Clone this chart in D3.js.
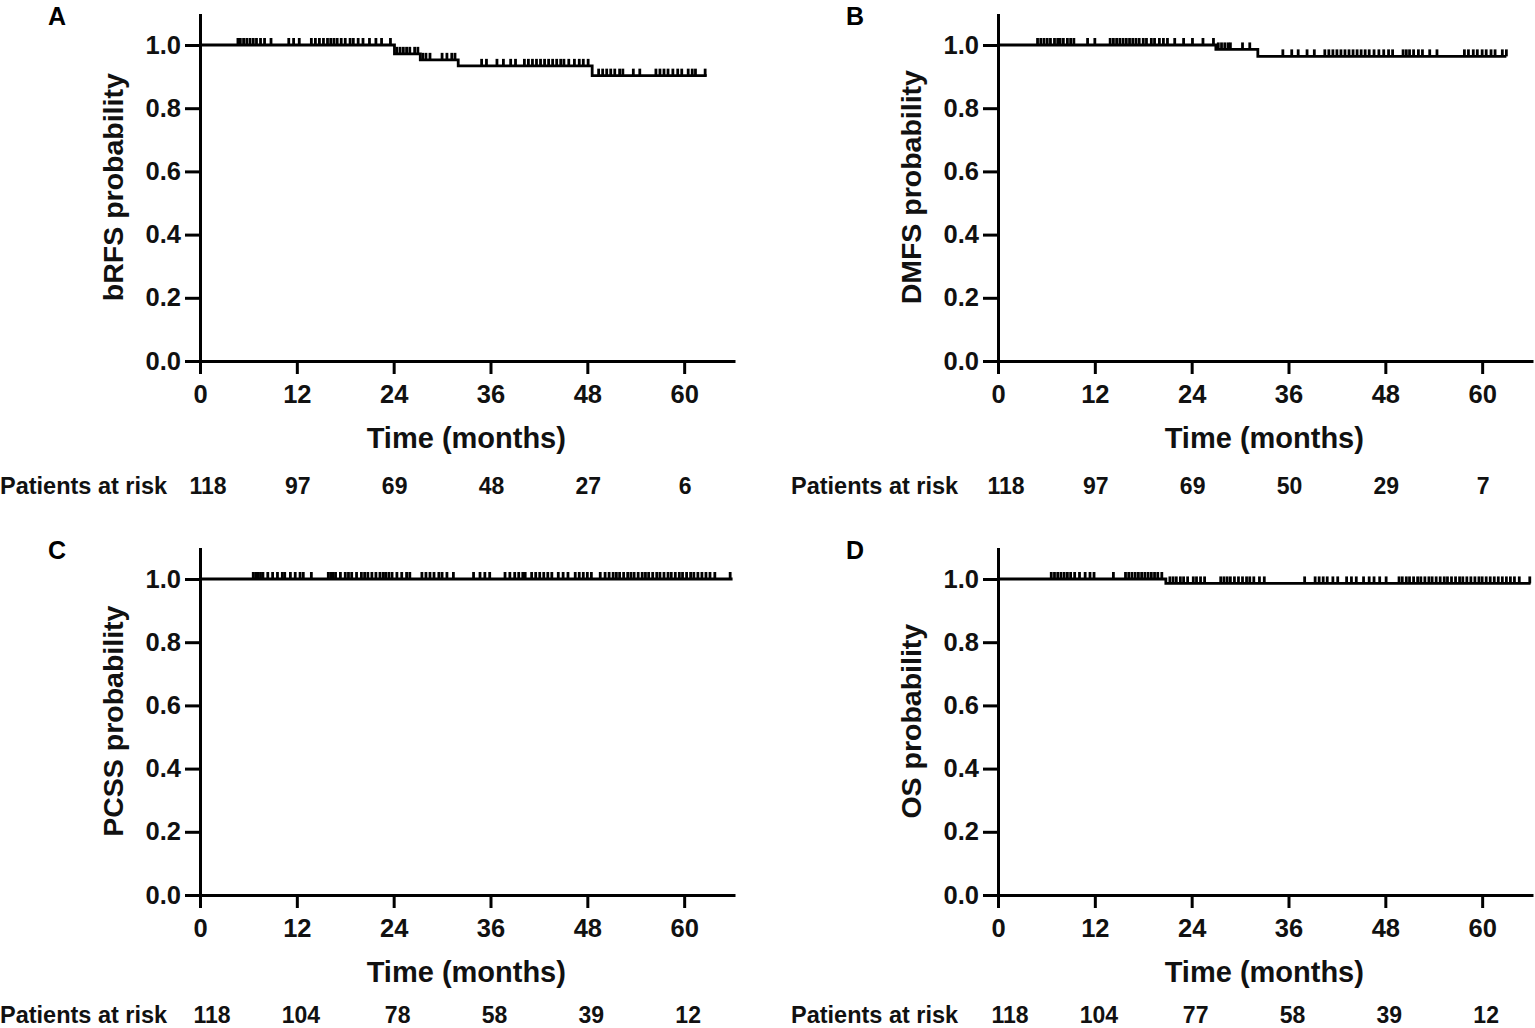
<!DOCTYPE html>
<html>
<head>
<meta charset="utf-8">
<script src="https://cdn.jsdelivr.net/npm/d3@7"></script>
<style>
  body { margin: 0; background: #fff; overflow: hidden; }
  svg { display: block; font-family: "Liberation Sans", Arial, sans-serif; font-weight: bold; }
</style>
</head>
<body>
<div id="chart"></div>
<script>
// Kaplan-Meier step points (time in months, survival probability)
const stepsA = [[0, 1], [24.1, 0.972], [27.3, 0.953], [32.0, 0.934], [48.6, 0.903]];
const stepsB = [[0, 1], [27.0, 0.986], [32.2, 0.964]];
const stepsC = [[0, 1]];
const stepsD = [[0, 1], [20.8, 0.986]];

// last follow-up time for each curve
const endA = 62.8, endB = 63.0, endC = 66.0, endD = 66.0;

// censored observations (months)
const censorA = [4.7, 5.0, 5.4, 5.8, 6.2, 6.6, 7.0, 7.5, 8.0, 8.8, 11.0, 11.6, 12.3,
  13.8, 14.3, 14.8, 15.3, 15.8, 16.2, 16.6, 17.0, 17.5, 18.0, 18.6, 19.0, 19.6, 20.2, 21.0,
  21.8, 22.5, 23.6, 24.4, 24.8, 25.2, 25.6, 26.0, 26.6, 27.0, 27.6, 28.0, 28.5,
  30.0, 30.6, 31.2, 31.6, 34.9, 35.5, 36.8, 37.6, 38.5, 39.1,
  40.2, 40.7, 41.2, 41.7, 42.2, 42.7, 43.2, 43.7, 44.2, 44.7, 45.1, 45.7, 46.4, 47.0, 47.5, 48.1,
  49.4, 49.9, 50.4, 50.9, 51.4, 52.0, 52.4, 53.7, 54.5, 56.5, 57.0, 57.5, 58.0,
  58.6, 59.2, 59.7, 60.5, 61.0, 61.4, 62.6];
const censorB = [4.9, 5.3, 5.7, 6.1, 6.5, 7.0, 7.4, 7.7, 8.1, 8.6, 9.0, 9.4, 11.1, 12.0,
  13.9, 14.3, 14.7, 15.1, 15.5, 15.9, 16.3, 16.7, 17.1, 17.5, 18.0, 18.4, 19.0, 19.4, 20.0, 20.5, 21.0,
  21.9, 23.0, 24.1, 25.4, 26.7, 27.3, 27.7, 28.1, 28.5, 28.8, 30.3, 31.2,
  35.3, 36.4, 37.2, 38.3, 39.2, 40.5, 41.0, 41.5, 42.0, 42.5, 43.0, 43.5, 44.0, 44.5, 45.0, 45.5,
  46.0, 46.6, 47.2, 47.8, 48.4, 48.9, 50.2, 50.6, 51.0, 51.5, 52.1, 52.6, 53.5, 54.4,
  57.8, 58.3, 58.9, 59.4, 60.0, 60.5, 61.1, 61.6, 62.5, 63.0];
const censorC = [6.6, 6.9, 7.2, 7.5, 7.8, 8.4, 9.0, 9.6, 10.2, 10.5, 11.2, 11.8, 12.4, 12.8, 13.8,
  15.9, 16.2, 16.5, 16.8, 17.4, 18.0, 18.4, 18.8, 19.4, 20.0, 20.4, 20.8, 21.3, 21.8, 22.3,
  22.7, 23.0, 23.4, 23.8, 24.4, 25.0, 25.6, 26.0, 27.5, 28.0, 28.5, 29.0, 29.6, 30.0, 30.6, 31.4,
  33.9, 34.7, 35.3, 35.9, 37.8, 38.4, 39.0, 39.5, 40.0, 40.3, 41.1, 41.6, 42.1, 42.6, 43.1, 43.6,
  44.4, 45.0, 45.6, 46.5, 47.0, 47.5, 48.0, 48.5, 49.6, 50.2, 50.7, 51.2, 51.6, 52.0, 52.5, 53.0,
  53.4, 53.8, 54.3, 54.8, 55.2, 55.6, 56.1, 56.6, 57.0, 57.5, 58.0, 58.4, 58.9, 59.4, 59.8, 60.3,
  60.8, 61.2, 61.7, 62.2, 62.7, 63.2, 63.8, 65.7];
const censorD = [6.6, 7.0, 7.4, 7.8, 8.2, 8.6, 9.0, 9.5, 10.1, 10.8, 11.4, 11.9, 14.3,
  15.8, 16.2, 16.6, 17.0, 17.4, 17.8, 18.2, 18.6, 19.0, 19.4, 19.8, 20.3,
  21.3, 21.7, 22.1, 22.6, 23.0, 23.5, 24.2, 24.6, 25.1, 25.6, 27.6, 28.0, 28.4, 28.8, 29.3, 29.8,
  30.3, 30.8, 31.2, 31.7, 32.4, 33.0, 38.0, 39.3, 39.8, 40.3, 40.8, 41.5, 42.1, 43.2, 43.8, 44.4,
  45.3, 46.0, 46.6, 47.3, 48.1, 49.7, 50.1, 50.6, 51.0, 51.5, 52.0, 52.4, 52.9, 53.4, 53.8, 54.3,
  54.8, 55.3, 55.7, 56.2, 56.7, 57.2, 57.6, 58.1, 58.6, 59.1, 59.6, 60.0, 60.5, 61.0, 61.5, 62.0,
  62.5, 63.0, 63.5, 64.0, 64.6, 65.9];

// tick labels / risk table
const xTicks = [0, 12, 24, 36, 48, 60];
const yTicks = [0, 0.2, 0.4, 0.6, 0.8, 1.0];
const riskA = [118, 97, 69, 48, 27, 6];
const riskB = [118, 97, 69, 50, 29, 7];
const riskC = [118, 104, 78, 58, 39, 12];
const riskD = [118, 104, 77, 58, 39, 12];

const panels = [
  { letter: "A", yTitle: "bRFS probability", steps: stepsA, end: endA, censor: censorA, risk: riskA, col: 0, row: 0 },
  { letter: "B", yTitle: "DMFS probability", steps: stepsB, end: endB, censor: censorB, risk: riskB, col: 1, row: 0 },
  { letter: "C", yTitle: "PCSS probability", steps: stepsC, end: endC, censor: censorC, risk: riskC, col: 0, row: 1 },
  { letter: "D", yTitle: "OS probability", steps: stepsD, end: endD, censor: censorD, risk: riskD, col: 1, row: 1 }
];

const W = 1535, H = 1028;
const svg = d3.select("#chart").append("svg").attr("width", W).attr("height", H);

panels.forEach(p => {
  const ox = 200 + p.col * 798;     // y-axis position
  const oy = 361 + p.row * 534;     // x-axis position
  const x = d3.scaleLinear().domain([0, 66.3]).range([ox, ox + 535]);
  const y = d3.scaleLinear().domain([0, 1.1]).range([oy, oy - 347.6]);

  const g = svg.append("g");

  // survival at a given time
  const survAt = t => {
    let s = 1;
    p.steps.forEach(d => { if (d[0] <= t) s = d[1]; });
    return s;
  };

  // axes
  const xAxis = g.append("g").attr("transform", `translate(0,${oy})`)
    .call(d3.axisBottom(x).tickValues(xTicks).tickSize(13).tickSizeOuter(0).tickPadding(11));
  const yAxis = g.append("g").attr("transform", `translate(${ox},0)`)
    .call(d3.axisLeft(y).tickValues(yTicks).tickFormat(d3.format(".1f")).tickSize(15).tickSizeOuter(0).tickPadding(4));
  [xAxis, yAxis].forEach(a => {
    a.selectAll("path, line").attr("stroke", "#000").attr("stroke-width", 3);
    a.selectAll("text").attr("fill", "#111").style("font-size", "25.5px").style("font-weight", "bold")
      .style("font-family", "'Liberation Sans', Arial, sans-serif");
  });

  // KM curve
  const pts = p.steps.concat([[p.end, p.steps[p.steps.length - 1][1]]]);
  const line = d3.line().x(d => x(d[0])).y(d => y(d[1])).curve(d3.curveStepAfter);
  g.append("path").datum(pts).attr("d", line)
    .attr("fill", "none").attr("stroke", "#000").attr("stroke-width", 2.8);

  // censor ticks
  g.selectAll(".cens").data(p.censor).join("line")
    .attr("x1", d => x(d)).attr("x2", d => x(d))
    .attr("y1", d => y(survAt(d)))
    .attr("y2", d => y(survAt(d)) - 7)
    .attr("stroke", "#000").attr("stroke-width", 2.8);

  // titles
  g.append("text").attr("x", x(33)).attr("y", oy + 87)
    .attr("text-anchor", "middle").style("font-size", "29px").attr("fill", "#111").text("Time (months)");
  g.append("text")
    .attr("transform", `translate(${ox - 77},${y(0.55)}) rotate(-90)`)
    .attr("text-anchor", "middle").style("font-size", "28.5px").attr("fill", "#111").text(p.yTitle);
  g.append("text").attr("x", ox - 152).attr("y", oy - 336)
    .style("font-size", "25px").text(p.letter);

  // patients at risk (bottom row sits at the page edge, like the original)
  const riskY = p.row === 0 ? oy + 133 : Math.min(oy + 133, H - 5);
  g.append("text").attr("x", ox - 200 + p.col * -7).attr("y", riskY)
    .style("font-size", "23.5px").attr("fill", "#111").text("Patients at risk");
  g.selectAll(".risk").data(p.risk).join("text")
    .attr("x", (d, i) => x(xTicks[i]) + (i === 0 ? 8 + p.row * 4 : 1 + p.row * 3))
    .attr("y", riskY)
    .attr("text-anchor", "middle").style("font-size", "23px").attr("fill", "#111").text(d => d);
});
</script>
</body>
</html>
